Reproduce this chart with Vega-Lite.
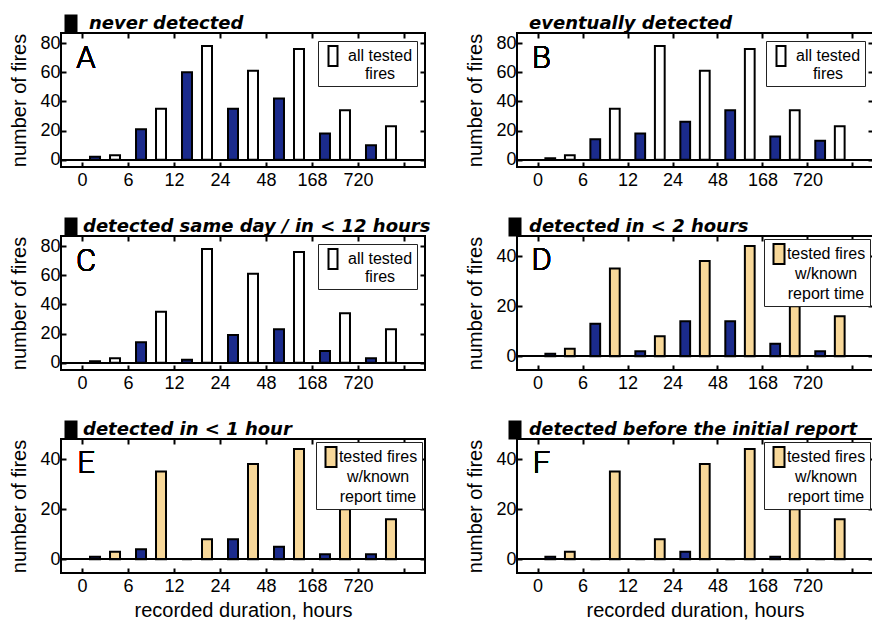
{
  "$schema": "https://vega.github.io/schema/vega-lite/v6.json",
  "background": "white",
  "padding": {"left": 8, "top": 12, "right": 0, "bottom": 0},
  "data": {"values": [
    {"panel": "A", "series": "dark", "bin": "0", "n": 2},
    {"panel": "A", "series": "dark", "bin": "6", "n": 21},
    {"panel": "A", "series": "dark", "bin": "12", "n": 60},
    {"panel": "A", "series": "dark", "bin": "24", "n": 35},
    {"panel": "A", "series": "dark", "bin": "48", "n": 42},
    {"panel": "A", "series": "dark", "bin": "168", "n": 18},
    {"panel": "A", "series": "dark", "bin": "720", "n": 10},
    {"panel": "A", "series": "light", "bin": "0", "n": 3},
    {"panel": "A", "series": "light", "bin": "6", "n": 35},
    {"panel": "A", "series": "light", "bin": "12", "n": 78},
    {"panel": "A", "series": "light", "bin": "24", "n": 61},
    {"panel": "A", "series": "light", "bin": "48", "n": 76},
    {"panel": "A", "series": "light", "bin": "168", "n": 34},
    {"panel": "A", "series": "light", "bin": "720", "n": 23},
    {"panel": "B", "series": "dark", "bin": "0", "n": 1},
    {"panel": "B", "series": "dark", "bin": "6", "n": 14},
    {"panel": "B", "series": "dark", "bin": "12", "n": 18},
    {"panel": "B", "series": "dark", "bin": "24", "n": 26},
    {"panel": "B", "series": "dark", "bin": "48", "n": 34},
    {"panel": "B", "series": "dark", "bin": "168", "n": 16},
    {"panel": "B", "series": "dark", "bin": "720", "n": 13},
    {"panel": "B", "series": "light", "bin": "0", "n": 3},
    {"panel": "B", "series": "light", "bin": "6", "n": 35},
    {"panel": "B", "series": "light", "bin": "12", "n": 78},
    {"panel": "B", "series": "light", "bin": "24", "n": 61},
    {"panel": "B", "series": "light", "bin": "48", "n": 76},
    {"panel": "B", "series": "light", "bin": "168", "n": 34},
    {"panel": "B", "series": "light", "bin": "720", "n": 23},
    {"panel": "C", "series": "dark", "bin": "0", "n": 1},
    {"panel": "C", "series": "dark", "bin": "6", "n": 14},
    {"panel": "C", "series": "dark", "bin": "12", "n": 2},
    {"panel": "C", "series": "dark", "bin": "24", "n": 19},
    {"panel": "C", "series": "dark", "bin": "48", "n": 23},
    {"panel": "C", "series": "dark", "bin": "168", "n": 8},
    {"panel": "C", "series": "dark", "bin": "720", "n": 3},
    {"panel": "C", "series": "light", "bin": "0", "n": 3},
    {"panel": "C", "series": "light", "bin": "6", "n": 35},
    {"panel": "C", "series": "light", "bin": "12", "n": 78},
    {"panel": "C", "series": "light", "bin": "24", "n": 61},
    {"panel": "C", "series": "light", "bin": "48", "n": 76},
    {"panel": "C", "series": "light", "bin": "168", "n": 34},
    {"panel": "C", "series": "light", "bin": "720", "n": 23},
    {"panel": "D", "series": "dark", "bin": "0", "n": 1},
    {"panel": "D", "series": "dark", "bin": "6", "n": 13},
    {"panel": "D", "series": "dark", "bin": "12", "n": 2},
    {"panel": "D", "series": "dark", "bin": "24", "n": 14},
    {"panel": "D", "series": "dark", "bin": "48", "n": 14},
    {"panel": "D", "series": "dark", "bin": "168", "n": 5},
    {"panel": "D", "series": "dark", "bin": "720", "n": 2},
    {"panel": "D", "series": "light", "bin": "0", "n": 3},
    {"panel": "D", "series": "light", "bin": "6", "n": 35},
    {"panel": "D", "series": "light", "bin": "12", "n": 8},
    {"panel": "D", "series": "light", "bin": "24", "n": 38},
    {"panel": "D", "series": "light", "bin": "48", "n": 44},
    {"panel": "D", "series": "light", "bin": "168", "n": 20},
    {"panel": "D", "series": "light", "bin": "720", "n": 16},
    {"panel": "E", "series": "dark", "bin": "0", "n": 1},
    {"panel": "E", "series": "dark", "bin": "6", "n": 4},
    {"panel": "E", "series": "dark", "bin": "12", "n": 0},
    {"panel": "E", "series": "dark", "bin": "24", "n": 8},
    {"panel": "E", "series": "dark", "bin": "48", "n": 5},
    {"panel": "E", "series": "dark", "bin": "168", "n": 2},
    {"panel": "E", "series": "dark", "bin": "720", "n": 2},
    {"panel": "E", "series": "light", "bin": "0", "n": 3},
    {"panel": "E", "series": "light", "bin": "6", "n": 35},
    {"panel": "E", "series": "light", "bin": "12", "n": 8},
    {"panel": "E", "series": "light", "bin": "24", "n": 38},
    {"panel": "E", "series": "light", "bin": "48", "n": 44},
    {"panel": "E", "series": "light", "bin": "168", "n": 20},
    {"panel": "E", "series": "light", "bin": "720", "n": 16},
    {"panel": "F", "series": "dark", "bin": "0", "n": 1},
    {"panel": "F", "series": "dark", "bin": "6", "n": 0},
    {"panel": "F", "series": "dark", "bin": "12", "n": 0},
    {"panel": "F", "series": "dark", "bin": "24", "n": 3},
    {"panel": "F", "series": "dark", "bin": "48", "n": 0},
    {"panel": "F", "series": "dark", "bin": "168", "n": 1},
    {"panel": "F", "series": "dark", "bin": "720", "n": 0},
    {"panel": "F", "series": "light", "bin": "0", "n": 3},
    {"panel": "F", "series": "light", "bin": "6", "n": 35},
    {"panel": "F", "series": "light", "bin": "12", "n": 8},
    {"panel": "F", "series": "light", "bin": "24", "n": 38},
    {"panel": "F", "series": "light", "bin": "48", "n": 44},
    {"panel": "F", "series": "light", "bin": "168", "n": 20},
    {"panel": "F", "series": "light", "bin": "720", "n": 16}
  ]},
  "config": {
    "font": "Liberation Sans",
    "view": {"stroke": "black", "strokeWidth": 2},
    "axis": {"grid": false, "domain": false, "tickColor": "black", "tickSize": -5, "tickWidth": 2, "labelColor": "black", "labelFont": "Liberation Sans", "labelFontSize": 18, "titleFont": "Liberation Sans", "titleFontSize": 20, "titleFontWeight": "normal", "titleColor": "black"},
    "axisX": {"labelAngle": 0, "tickBand": "extent"}
  },
  "columns": 2,
  "spacing": {"row": 25, "column": 32},
  "resolve": {"scale": {"x": "independent", "y": "independent", "xOffset": "independent", "fill": "independent", "stroke": "independent"}, "axis": {"x": "independent", "y": "independent"}, "legend": {"fill": "independent", "stroke": "independent"}},
  "concat": [
    {
      "width": 364, "height": 134,
      "transform": [{"filter": "datum.panel == 'A'"}],
      "resolve": {"axis": {"x": "independent", "y": "independent"}},
      "layer": [
        {"transform": [{"filter": "datum.series == 'dark'"}],
         "mark": {"type": "bar", "fill": "#1b2b8c", "strokeWidth": 2},
         "encoding": {
           "x": {"field": "bin", "type": "ordinal", "scale": {"domain": ["0","6","12","24","48","168","720"], "paddingInner": 0, "paddingOuter": 0.457}, "axis": {"orient": "bottom", "labelOffset": -23, "title": null, "labelPadding": 9}},
           "xOffset": {"field": "series", "scale": {"domain": ["dark","light"], "paddingInner": 0.5, "paddingOuter": 0.4}},
           "y": {"field": "n", "type": "quantitative", "scale": {"domain": [-5, 87], "nice": false}, "axis": {"orient": "left", "values": [0,20,40,60,80], "title": "number of fires", "labelPadding": 6, "titlePadding": 10}},
           "stroke": {"field": "series", "scale": {"domain": ["dark"], "range": ["black"]}, "legend": {"orient": "none", "legendX": -1, "legendY": -20, "title": null, "padding": 0, "symbolType": "M-0.55,-0.85H0.55V0.85H-0.55Z", "symbolSize": 400, "symbolStrokeWidth": 2, "symbolFillColor": "black", "labelExpr": "'never detected'", "labelFont": "DejaVu Sans", "labelFontSize": 18, "labelFontStyle": "italic", "labelFontWeight": "bold", "labelColor": "black", "labelOffset": 7, "labelLimit": 500, "encoding": {"symbols": {"fill": {"value": "black"}}}}}
         }},
        {"transform": [{"filter": "datum.series == 'light'"}],
         "mark": {"type": "bar", "stroke": "black", "strokeWidth": 2},
         "encoding": {
           "x": {"field": "bin", "type": "ordinal", "axis": null},
           "xOffset": {"field": "series"},
           "y": {"field": "n", "type": "quantitative", "axis": null},
           "fill": {"field": "series", "scale": {"domain": ["light"], "range": ["white"]}, "legend": {"orient": "top-right", "offset": 8, "title": null, "padding": 4, "strokeColor": "#222222", "fillColor": "white", "symbolType": "M-0.45,-1H0.45V1H-0.45Z", "symbolSize": 400, "symbolStrokeColor": "black", "symbolStrokeWidth": 2, "labelExpr": "['all tested', 'fires']", "labelFont": "Liberation Sans", "labelFontSize": 16, "labelAlign": "center", "labelOffset": 36, "labelColor": "black", "encoding": {"labels": {"lineHeight": {"value": 18}}}}}
         }},
        {"mark": {"type": "rule", "color": "black", "strokeWidth": 1.5},
         "encoding": {"y": {"datum": 0, "type": "quantitative", "axis": null}}},
        {"mark": {"type": "text", "text": "A", "font": "Roboto", "fontWeight": 300, "fontSize": 31, "align": "center", "baseline": "middle", "color": "black", "dx": 4},
         "encoding": {
           "x": {"datum": "0", "type": "ordinal", "bandPosition": 0, "axis": {"orient": "top", "labels": false, "title": null}},
           "y": {"datum": 69, "type": "quantitative", "axis": {"orient": "right", "labels": false, "title": null, "values": [0,20,40,60,80]}}
         }}
      ]
    },
    {
      "width": 356, "height": 134,
      "transform": [{"filter": "datum.panel == 'B'"}],
      "resolve": {"axis": {"x": "independent", "y": "independent"}},
      "layer": [
        {"transform": [{"filter": "datum.series == 'dark'"}],
         "mark": {"type": "bar", "fill": "#1b2b8c", "strokeWidth": 2},
         "encoding": {
           "x": {"field": "bin", "type": "ordinal", "scale": {"domain": ["0","6","12","24","48","168","720"], "paddingInner": 0, "paddingOuter": 0.457}, "axis": {"orient": "bottom", "labelOffset": -22.5, "title": null, "labelPadding": 9}},
           "xOffset": {"field": "series", "scale": {"domain": ["dark","light"], "paddingInner": 0.5, "paddingOuter": 0.4}},
           "y": {"field": "n", "type": "quantitative", "scale": {"domain": [-5, 87], "nice": false}, "axis": {"orient": "left", "values": [0,20,40,60,80], "title": "number of fires", "labelPadding": 6, "titlePadding": 10}},
           "stroke": {"field": "series", "scale": {"domain": ["dark"], "range": ["black"]}, "legend": {"orient": "none", "legendX": -13, "legendY": -20, "title": null, "padding": 0, "symbolType": "M-0.55,-0.85H0.55V0.85H-0.55Z", "symbolSize": 400, "symbolStrokeWidth": 2, "symbolFillColor": "black", "labelExpr": "'eventually  detected'", "labelFont": "DejaVu Sans", "labelFontSize": 18, "labelFontStyle": "italic", "labelFontWeight": "bold", "labelColor": "black", "labelOffset": 3, "labelLimit": 500, "encoding": {"symbols": {"fill": {"value": "black"}, "opacity": {"value": 0}}}}}
         }},
        {"transform": [{"filter": "datum.series == 'light'"}],
         "mark": {"type": "bar", "stroke": "black", "strokeWidth": 2},
         "encoding": {
           "x": {"field": "bin", "type": "ordinal", "axis": null},
           "xOffset": {"field": "series"},
           "y": {"field": "n", "type": "quantitative", "axis": null},
           "fill": {"field": "series", "scale": {"domain": ["light"], "range": ["white"]}, "legend": {"orient": "top-right", "offset": 8, "title": null, "padding": 4, "strokeColor": "#222222", "fillColor": "white", "symbolType": "M-0.45,-1H0.45V1H-0.45Z", "symbolSize": 400, "symbolStrokeColor": "black", "symbolStrokeWidth": 2, "labelExpr": "['all tested', 'fires']", "labelFont": "Liberation Sans", "labelFontSize": 16, "labelAlign": "center", "labelOffset": 36, "labelColor": "black", "encoding": {"labels": {"lineHeight": {"value": 18}}}}}
         }},
        {"mark": {"type": "rule", "color": "black", "strokeWidth": 1.5},
         "encoding": {"y": {"datum": 0, "type": "quantitative", "axis": null}}},
        {"mark": {"type": "text", "text": "B", "font": "Roboto", "fontWeight": 300, "fontSize": 31, "align": "center", "baseline": "middle", "color": "black", "dx": 4},
         "encoding": {
           "x": {"datum": "0", "type": "ordinal", "bandPosition": 0, "axis": {"orient": "top", "labels": false, "title": null}},
           "y": {"datum": 69, "type": "quantitative", "axis": {"orient": "right", "labels": false, "title": null, "values": [0,20,40,60,80]}}
         }}
      ]
    },
    {
      "width": 364, "height": 134,
      "transform": [{"filter": "datum.panel == 'C'"}],
      "resolve": {"axis": {"x": "independent", "y": "independent"}},
      "layer": [
        {"transform": [{"filter": "datum.series == 'dark'"}],
         "mark": {"type": "bar", "fill": "#1b2b8c", "strokeWidth": 2},
         "encoding": {
           "x": {"field": "bin", "type": "ordinal", "scale": {"domain": ["0","6","12","24","48","168","720"], "paddingInner": 0, "paddingOuter": 0.457}, "axis": {"orient": "bottom", "labelOffset": -23, "title": null, "labelPadding": 9}},
           "xOffset": {"field": "series", "scale": {"domain": ["dark","light"], "paddingInner": 0.5, "paddingOuter": 0.4}},
           "y": {"field": "n", "type": "quantitative", "scale": {"domain": [-5, 87], "nice": false}, "axis": {"orient": "left", "values": [0,20,40,60,80], "title": "number of fires", "labelPadding": 6, "titlePadding": 10}},
           "stroke": {"field": "series", "scale": {"domain": ["dark"], "range": ["black"]}, "legend": {"orient": "none", "legendX": -1, "legendY": -20, "title": null, "padding": 0, "symbolType": "M-0.55,-0.85H0.55V0.85H-0.55Z", "symbolSize": 400, "symbolStrokeWidth": 2, "symbolFillColor": "black", "labelExpr": "'detected same day / in < 12 hours'", "labelFont": "DejaVu Sans", "labelFontSize": 18, "labelFontStyle": "italic", "labelFontWeight": "bold", "labelColor": "black", "labelOffset": 1, "labelLimit": 500, "encoding": {"symbols": {"fill": {"value": "black"}}}}}
         }},
        {"transform": [{"filter": "datum.series == 'light'"}],
         "mark": {"type": "bar", "stroke": "black", "strokeWidth": 2},
         "encoding": {
           "x": {"field": "bin", "type": "ordinal", "axis": null},
           "xOffset": {"field": "series"},
           "y": {"field": "n", "type": "quantitative", "axis": null},
           "fill": {"field": "series", "scale": {"domain": ["light"], "range": ["white"]}, "legend": {"orient": "top-right", "offset": 8, "title": null, "padding": 4, "strokeColor": "#222222", "fillColor": "white", "symbolType": "M-0.45,-1H0.45V1H-0.45Z", "symbolSize": 400, "symbolStrokeColor": "black", "symbolStrokeWidth": 2, "labelExpr": "['all tested', 'fires']", "labelFont": "Liberation Sans", "labelFontSize": 16, "labelAlign": "center", "labelOffset": 36, "labelColor": "black", "encoding": {"labels": {"lineHeight": {"value": 18}}}}}
         }},
        {"mark": {"type": "rule", "color": "black", "strokeWidth": 1.5},
         "encoding": {"y": {"datum": 0, "type": "quantitative", "axis": null}}},
        {"mark": {"type": "text", "text": "C", "font": "Roboto", "fontWeight": 300, "fontSize": 31, "align": "center", "baseline": "middle", "color": "black", "dx": 4},
         "encoding": {
           "x": {"datum": "0", "type": "ordinal", "bandPosition": 0, "axis": {"orient": "top", "labels": false, "title": null}},
           "y": {"datum": 69, "type": "quantitative", "axis": {"orient": "right", "labels": false, "title": null, "values": [0,20,40,60,80]}}
         }}
      ]
    },
    {
      "width": 356, "height": 134,
      "transform": [{"filter": "datum.panel == 'D'"}],
      "resolve": {"axis": {"x": "independent", "y": "independent"}},
      "layer": [
        {"transform": [{"filter": "datum.series == 'dark'"}],
         "mark": {"type": "bar", "fill": "#1b2b8c", "strokeWidth": 2},
         "encoding": {
           "x": {"field": "bin", "type": "ordinal", "scale": {"domain": ["0","6","12","24","48","168","720"], "paddingInner": 0, "paddingOuter": 0.457}, "axis": {"orient": "bottom", "labelOffset": -22.5, "title": null, "labelPadding": 9}},
           "xOffset": {"field": "series", "scale": {"domain": ["dark","light"], "paddingInner": 0.5, "paddingOuter": 0.4}},
           "y": {"field": "n", "type": "quantitative", "scale": {"domain": [-5.5, 48], "nice": false}, "axis": {"orient": "left", "values": [0,20,40], "title": "number of fires", "labelPadding": 6, "titlePadding": 10}},
           "stroke": {"field": "series", "scale": {"domain": ["dark"], "range": ["black"]}, "legend": {"orient": "none", "legendX": -13, "legendY": -20, "title": null, "padding": 0, "symbolType": "M-0.55,-0.85H0.55V0.85H-0.55Z", "symbolSize": 400, "symbolStrokeWidth": 2, "symbolFillColor": "black", "labelExpr": "'detected in < 2 hours'", "labelFont": "DejaVu Sans", "labelFontSize": 18, "labelFontStyle": "italic", "labelFontWeight": "bold", "labelColor": "black", "labelOffset": 3, "labelLimit": 500, "encoding": {"symbols": {"fill": {"value": "black"}}}}}
         }},
        {"transform": [{"filter": "datum.series == 'light'"}],
         "mark": {"type": "bar", "stroke": "black", "strokeWidth": 2},
         "encoding": {
           "x": {"field": "bin", "type": "ordinal", "axis": null},
           "xOffset": {"field": "series"},
           "y": {"field": "n", "type": "quantitative", "axis": null},
           "fill": {"field": "series", "scale": {"domain": ["light"], "range": ["#f8d899"]}, "legend": {"orient": "top-right", "offset": 3, "title": null, "padding": 4, "strokeColor": "#222222", "fillColor": "white", "symbolType": "M-0.55,-1H0.55V1H-0.55Z", "symbolSize": 400, "symbolStrokeColor": "black", "symbolStrokeWidth": 2, "labelExpr": "['tested fires', 'w/known', 'report time']", "labelFont": "Liberation Sans", "labelFontSize": 16, "labelAlign": "center", "labelOffset": 36, "labelColor": "black", "encoding": {"labels": {"lineHeight": {"value": 20}}}}}
         }},
        {"mark": {"type": "rule", "color": "black", "strokeWidth": 1.5},
         "encoding": {"y": {"datum": 0, "type": "quantitative", "axis": null}}},
        {"mark": {"type": "text", "text": "D", "font": "Roboto", "fontWeight": 300, "fontSize": 31, "align": "center", "baseline": "middle", "color": "black", "dx": 4},
         "encoding": {
           "x": {"datum": "0", "type": "ordinal", "bandPosition": 0, "axis": {"orient": "top", "labels": false, "title": null}},
           "y": {"datum": 38, "type": "quantitative", "axis": {"orient": "right", "labels": false, "title": null, "values": [0,20,40]}}
         }}
      ]
    },
    {
      "width": 364, "height": 134,
      "transform": [{"filter": "datum.panel == 'E'"}],
      "resolve": {"axis": {"x": "independent", "y": "independent"}},
      "layer": [
        {"transform": [{"filter": "datum.series == 'dark'"}],
         "mark": {"type": "bar", "fill": "#1b2b8c", "strokeWidth": 2},
         "encoding": {
           "x": {"field": "bin", "type": "ordinal", "scale": {"domain": ["0","6","12","24","48","168","720"], "paddingInner": 0, "paddingOuter": 0.457}, "axis": {"orient": "bottom", "labelOffset": -23, "title": "recorded duration, hours", "labelPadding": 9, "titlePadding": 5}},
           "xOffset": {"field": "series", "scale": {"domain": ["dark","light"], "paddingInner": 0.5, "paddingOuter": 0.4}},
           "y": {"field": "n", "type": "quantitative", "scale": {"domain": [-5.5, 48], "nice": false}, "axis": {"orient": "left", "values": [0,20,40], "title": "number of fires", "labelPadding": 6, "titlePadding": 10}},
           "stroke": {"field": "series", "scale": {"domain": ["dark"], "range": ["black"]}, "legend": {"orient": "none", "legendX": -1, "legendY": -20, "title": null, "padding": 0, "symbolType": "M-0.55,-0.85H0.55V0.85H-0.55Z", "symbolSize": 400, "symbolStrokeWidth": 2, "symbolFillColor": "black", "labelExpr": "'detected in < 1 hour'", "labelFont": "DejaVu Sans", "labelFontSize": 18, "labelFontStyle": "italic", "labelFontWeight": "bold", "labelColor": "black", "labelOffset": 1, "labelLimit": 500, "encoding": {"symbols": {"fill": {"value": "black"}}}}}
         }},
        {"transform": [{"filter": "datum.series == 'light'"}],
         "mark": {"type": "bar", "stroke": "black", "strokeWidth": 2},
         "encoding": {
           "x": {"field": "bin", "type": "ordinal", "axis": null},
           "xOffset": {"field": "series"},
           "y": {"field": "n", "type": "quantitative", "axis": null},
           "fill": {"field": "series", "scale": {"domain": ["light"], "range": ["#f8d899"]}, "legend": {"orient": "top-right", "offset": 3, "title": null, "padding": 4, "strokeColor": "#222222", "fillColor": "white", "symbolType": "M-0.55,-1H0.55V1H-0.55Z", "symbolSize": 400, "symbolStrokeColor": "black", "symbolStrokeWidth": 2, "labelExpr": "['tested fires', 'w/known', 'report time']", "labelFont": "Liberation Sans", "labelFontSize": 16, "labelAlign": "center", "labelOffset": 36, "labelColor": "black", "encoding": {"labels": {"lineHeight": {"value": 20}}}}}
         }},
        {"mark": {"type": "rule", "color": "black", "strokeWidth": 1.5},
         "encoding": {"y": {"datum": 0, "type": "quantitative", "axis": null}}},
        {"mark": {"type": "text", "text": "E", "font": "Roboto", "fontWeight": 300, "fontSize": 31, "align": "center", "baseline": "middle", "color": "black", "dx": 4},
         "encoding": {
           "x": {"datum": "0", "type": "ordinal", "bandPosition": 0, "axis": {"orient": "top", "labels": false, "title": null}},
           "y": {"datum": 38, "type": "quantitative", "axis": {"orient": "right", "labels": false, "title": null, "values": [0,20,40]}}
         }}
      ]
    },
    {
      "width": 356, "height": 134,
      "transform": [{"filter": "datum.panel == 'F'"}],
      "resolve": {"axis": {"x": "independent", "y": "independent"}},
      "layer": [
        {"transform": [{"filter": "datum.series == 'dark'"}],
         "mark": {"type": "bar", "fill": "#1b2b8c", "strokeWidth": 2},
         "encoding": {
           "x": {"field": "bin", "type": "ordinal", "scale": {"domain": ["0","6","12","24","48","168","720"], "paddingInner": 0, "paddingOuter": 0.457}, "axis": {"orient": "bottom", "labelOffset": -22.5, "title": "recorded duration, hours", "labelPadding": 9, "titlePadding": 5}},
           "xOffset": {"field": "series", "scale": {"domain": ["dark","light"], "paddingInner": 0.5, "paddingOuter": 0.4}},
           "y": {"field": "n", "type": "quantitative", "scale": {"domain": [-5.5, 48], "nice": false}, "axis": {"orient": "left", "values": [0,20,40], "title": "number of fires", "labelPadding": 6, "titlePadding": 10}},
           "stroke": {"field": "series", "scale": {"domain": ["dark"], "range": ["black"]}, "legend": {"orient": "none", "legendX": -13, "legendY": -20, "title": null, "padding": 0, "symbolType": "M-0.55,-0.85H0.55V0.85H-0.55Z", "symbolSize": 400, "symbolStrokeWidth": 2, "symbolFillColor": "black", "labelExpr": "'detected before the initial report'", "labelFont": "DejaVu Sans", "labelFontSize": 17.5, "labelFontStyle": "italic", "labelFontWeight": "bold", "labelColor": "black", "labelOffset": 3, "labelLimit": 500, "encoding": {"symbols": {"fill": {"value": "black"}}}}}
         }},
        {"transform": [{"filter": "datum.series == 'light'"}],
         "mark": {"type": "bar", "stroke": "black", "strokeWidth": 2},
         "encoding": {
           "x": {"field": "bin", "type": "ordinal", "axis": null},
           "xOffset": {"field": "series"},
           "y": {"field": "n", "type": "quantitative", "axis": null},
           "fill": {"field": "series", "scale": {"domain": ["light"], "range": ["#f8d899"]}, "legend": {"orient": "top-right", "offset": 3, "title": null, "padding": 4, "strokeColor": "#222222", "fillColor": "white", "symbolType": "M-0.55,-1H0.55V1H-0.55Z", "symbolSize": 400, "symbolStrokeColor": "black", "symbolStrokeWidth": 2, "labelExpr": "['tested fires', 'w/known', 'report time']", "labelFont": "Liberation Sans", "labelFontSize": 16, "labelAlign": "center", "labelOffset": 36, "labelColor": "black", "encoding": {"labels": {"lineHeight": {"value": 20}}}}}
         }},
        {"mark": {"type": "rule", "color": "black", "strokeWidth": 1.5},
         "encoding": {"y": {"datum": 0, "type": "quantitative", "axis": null}}},
        {"mark": {"type": "text", "text": "F", "font": "Roboto", "fontWeight": 300, "fontSize": 31, "align": "center", "baseline": "middle", "color": "black", "dx": 4},
         "encoding": {
           "x": {"datum": "0", "type": "ordinal", "bandPosition": 0, "axis": {"orient": "top", "labels": false, "title": null}},
           "y": {"datum": 38, "type": "quantitative", "axis": {"orient": "right", "labels": false, "title": null, "values": [0,20,40]}}
         }}
      ]
    }
  ]
}
